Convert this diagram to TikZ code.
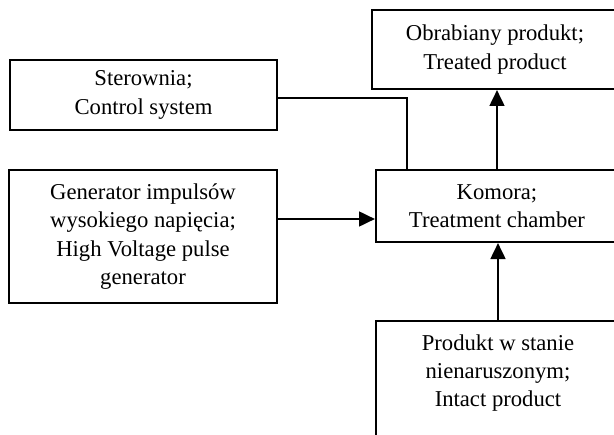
\documentclass[tikz,border=0pt]{standalone}
\usepackage{fontspec}
\setmainfont{Liberation Serif}
\usetikzlibrary{arrows.meta,calc}
\tikzset{
  box/.style={draw, line width=1.5pt, rectangle, align=center, inner sep=0pt,
    font=\fontsize{17}{21.2}\selectfont},
  arr/.style={line width=2pt, -{Triangle[length=12pt,width=11pt]}},
  ctl/.style={line width=1.5pt}
}
\begin{document}
\begin{tikzpicture}[x=0.75pt,y=-0.75pt]
\useasboundingbox (0,0) rectangle (614,435);
\clip (0,0) rectangle (614,435);
\node[box, minimum width=246*0.75pt, minimum height=79*0.75pt] (obr) at (495,49.5)
  {Obrabiany produkt;\\Treated product};
\node[box, minimum width=267*0.75pt, minimum height=70*0.75pt] (ster) at (143.5,95)
  {Sterownia;\\Control system};
\node[box, minimum width=268*0.75pt, minimum height=133*0.75pt] (gen) at (143,236.5)
  {Generator impulsów\\wysokiego napięcia;\\High Voltage pulse\\generator};
\node[box, minimum width=242*0.75pt, minimum height=72*0.75pt] (kom) at (497,206)
  {Komora;\\Treatment chamber};
\node[box, minimum width=244*0.75pt, minimum height=136*0.75pt] (prod) at (498,389)
  {Produkt w stanie\\nienaruszonym;\\Intact product\\\strut};
\draw[ctl] ($(ster.east)+(0,3)$) -| ($(kom.north west)+(32,0)$);
\draw[arr] (kom.north) -- (kom.north |- obr.south);
\coordinate (g) at ($(gen.east)+(0,-17.5)$);
\draw[arr] (g) -- (g -| kom.west);
\draw[arr] (prod.north) -- (prod.north |- kom.south);
\end{tikzpicture}
\end{document}
